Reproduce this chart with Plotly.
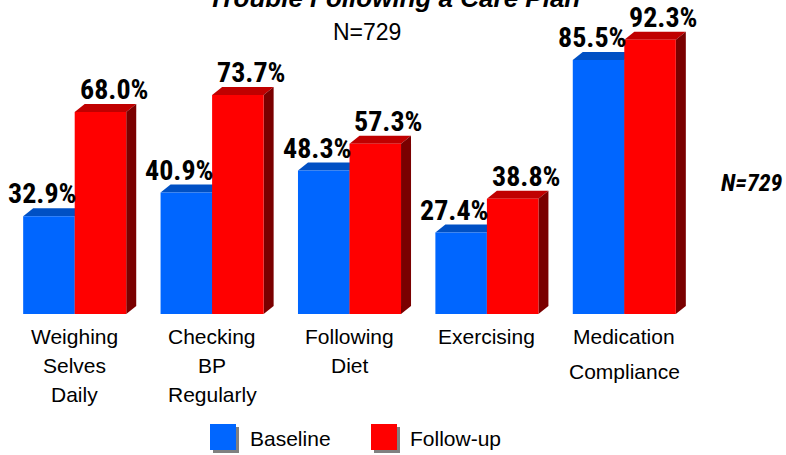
import plotly.graph_objects as go

# ---- data -------------------------------------------------------------
category_lines = [
    ["Weighing", "Selves", "Daily"],
    ["Checking", "BP", "Regularly"],
    ["Following", "Diet"],
    ["Exercising"],
    ["Medication", "Compliance"],
]
categories = [" ".join(lines) for lines in category_lines]
baseline = [32.9, 40.9, 48.3, 27.4, 85.5]
follow_up = [68.0, 73.7, 57.3, 38.8, 92.3]
series_names = ["Baseline", "Follow-up"]
title_text = "Trouble Following a Care Plan"
sample_note = "N=729"

# ---- geometry / style ---------------------------------------------------
W, H = 786, 455
M_L, M_R, M_T, M_B = 6, 93, 17, 141
PLOT_W = W - M_L - M_R
PLOT_H = H - M_T - M_B
Y_MAX = 100.0

BAR_W = 0.375            # width of each bar in category units
DX = 10 / PLOT_W * 5     # 3-D depth, horizontal (category units)
DY = 8 / PLOT_H * Y_MAX  # 3-D depth, vertical (value units)

BLUE_FRONT, BLUE_TOP, BLUE_SIDE = "#0066FF", "#0050C4", "#003A99"
RED_FRONT, RED_TOP, RED_SIDE = "#FF0000", "#C00000", "#7A0000"

CONDENSED = "Roboto Condensed, Liberation Sans, Arial, sans-serif"
REGULAR = "Liberation Sans, Arial, sans-serif"


def py(pixel_y):
    """Pixel row -> paper y."""
    return (H - M_B - pixel_y) / PLOT_H


def px(pixel_x):
    """Pixel column -> paper x."""
    return (pixel_x - M_L) / PLOT_W


x_pos = list(range(len(categories)))

fig = go.Figure()

series = [
    (series_names[0], baseline, -BAR_W, BLUE_FRONT, BLUE_TOP, BLUE_SIDE),
    (series_names[1], follow_up, 0.0, RED_FRONT, RED_TOP, RED_SIDE),
]

shapes = []
annotations = []

for name, vals, off, c_front, c_top, c_side in series:
    fig.add_trace(go.Bar(
        x=x_pos, y=vals, name=name, offset=off, width=BAR_W,
        marker=dict(color=c_front, line=dict(width=0)),
        customdata=categories,
        hovertemplate="%{customdata}<br>" + name + ": %{y:.1f}%<extra></extra>",
        showlegend=False,
    ))
    for xi, v in zip(x_pos, vals):
        x0 = xi + off
        x1 = x0 + BAR_W
        # top face
        shapes.append(dict(
            type="path", xref="x", yref="y", layer="below",
            path=f"M {x0},{v} L {x0 + DX},{v + DY} L {x1 + DX},{v + DY} L {x1},{v} Z",
            fillcolor=c_top, line=dict(width=0),
        ))
        # right side face
        shapes.append(dict(
            type="path", xref="x", yref="y", layer="below",
            path=f"M {x1},0 L {x1 + DX},{DY} L {x1 + DX},{v + DY} L {x1},{v} Z",
            fillcolor=c_side, line=dict(width=0),
        ))
        # value label
        label_dx = -0.05 if off < 0 else 0.095
        annotations.append(dict(
            x=x0 + BAR_W / 2 + label_dx, y=v + DY, xref="x", yref="y",
            text=f"{v:.1f}%", showarrow=False, yanchor="bottom", xanchor="center",
            yshift=-4,
            font=dict(family=CONDENSED, size=28, color="#000000", weight="bold"),
        ))

# category labels, one line per annotation
line_gap = [29, 29, 29, 29, 35]
first_baseline = 345
for xi, lines, gap in zip(x_pos, category_lines, line_gap):
    for k, line in enumerate(lines):
        base_px = first_baseline + gap * k
        annotations.append(dict(
            x=xi, y=py(base_px + 1 + 0.21 * 21), xref="x", yref="paper",
            text=line, showarrow=False, yanchor="bottom", xanchor="center",
            font=dict(family=REGULAR, size=21, color="#000000"),
        ))

# title (runs off the top edge) and sample-size notes
annotations.append(dict(
    x=px(394), y=py(9 + 1 + 0.21 * 26), xref="paper", yref="paper",
    text=title_text, showarrow=False,
    yanchor="bottom", xanchor="center",
    font=dict(family=REGULAR, size=26, color="#000000", weight="bold", style="italic"),
))
annotations.append(dict(
    x=px(367), y=py(41 + 1 + 0.21 * 23), xref="paper", yref="paper",
    text=sample_note, showarrow=False, yanchor="bottom", xanchor="center",
    font=dict(family=REGULAR, size=23, color="#000000"),
))
annotations.append(dict(
    x=px(752), y=py(192 + 1 + 0.24 * 24), xref="paper", yref="paper",
    text=sample_note, showarrow=False,
    yanchor="bottom", xanchor="center",
    font=dict(family=CONDENSED, size=24, color="#000000", weight="bold", style="italic"),
))

# hand-drawn legend with shadowed swatches
legend_items = [(series_names[0], BLUE_FRONT, 210, 248), (series_names[1], RED_FRONT, 371, 408)]
SW = 26
for name, col, sx, tx in legend_items:
    shapes.append(dict(
        type="rect", xref="paper", yref="paper",
        x0=px(sx + 3), x1=px(sx + 3 + SW), y0=py(424 + 3 + SW), y1=py(424 + 3),
        fillcolor="#808080", line=dict(width=0),
    ))
    shapes.append(dict(
        type="rect", xref="paper", yref="paper",
        x0=px(sx), x1=px(sx + SW), y0=py(424 + SW), y1=py(424),
        fillcolor=col, line=dict(width=0),
    ))
    annotations.append(dict(
        x=px(tx), y=py(447 + 1 + 0.21 * 21), xref="paper", yref="paper",
        text=name, showarrow=False, yanchor="bottom", xanchor="left",
        font=dict(family=REGULAR, size=21, color="#000000"),
    ))

fig.update_layout(
    width=W, height=H,
    margin=dict(l=M_L, r=M_R, t=M_T, b=M_B, pad=0),
    paper_bgcolor="#FFFFFF", plot_bgcolor="#FFFFFF",
    barmode="overlay",
    showlegend=False,
    shapes=shapes,
    annotations=annotations,
    xaxis=dict(range=[-0.5, len(categories) - 0.5], showgrid=False, zeroline=False,
               showline=False, showticklabels=False, ticks="", fixedrange=True),
    yaxis=dict(range=[0, Y_MAX], showgrid=False, zeroline=False, showline=False,
               showticklabels=False, ticks="", fixedrange=True),
)

fig.write_html("out.html")
